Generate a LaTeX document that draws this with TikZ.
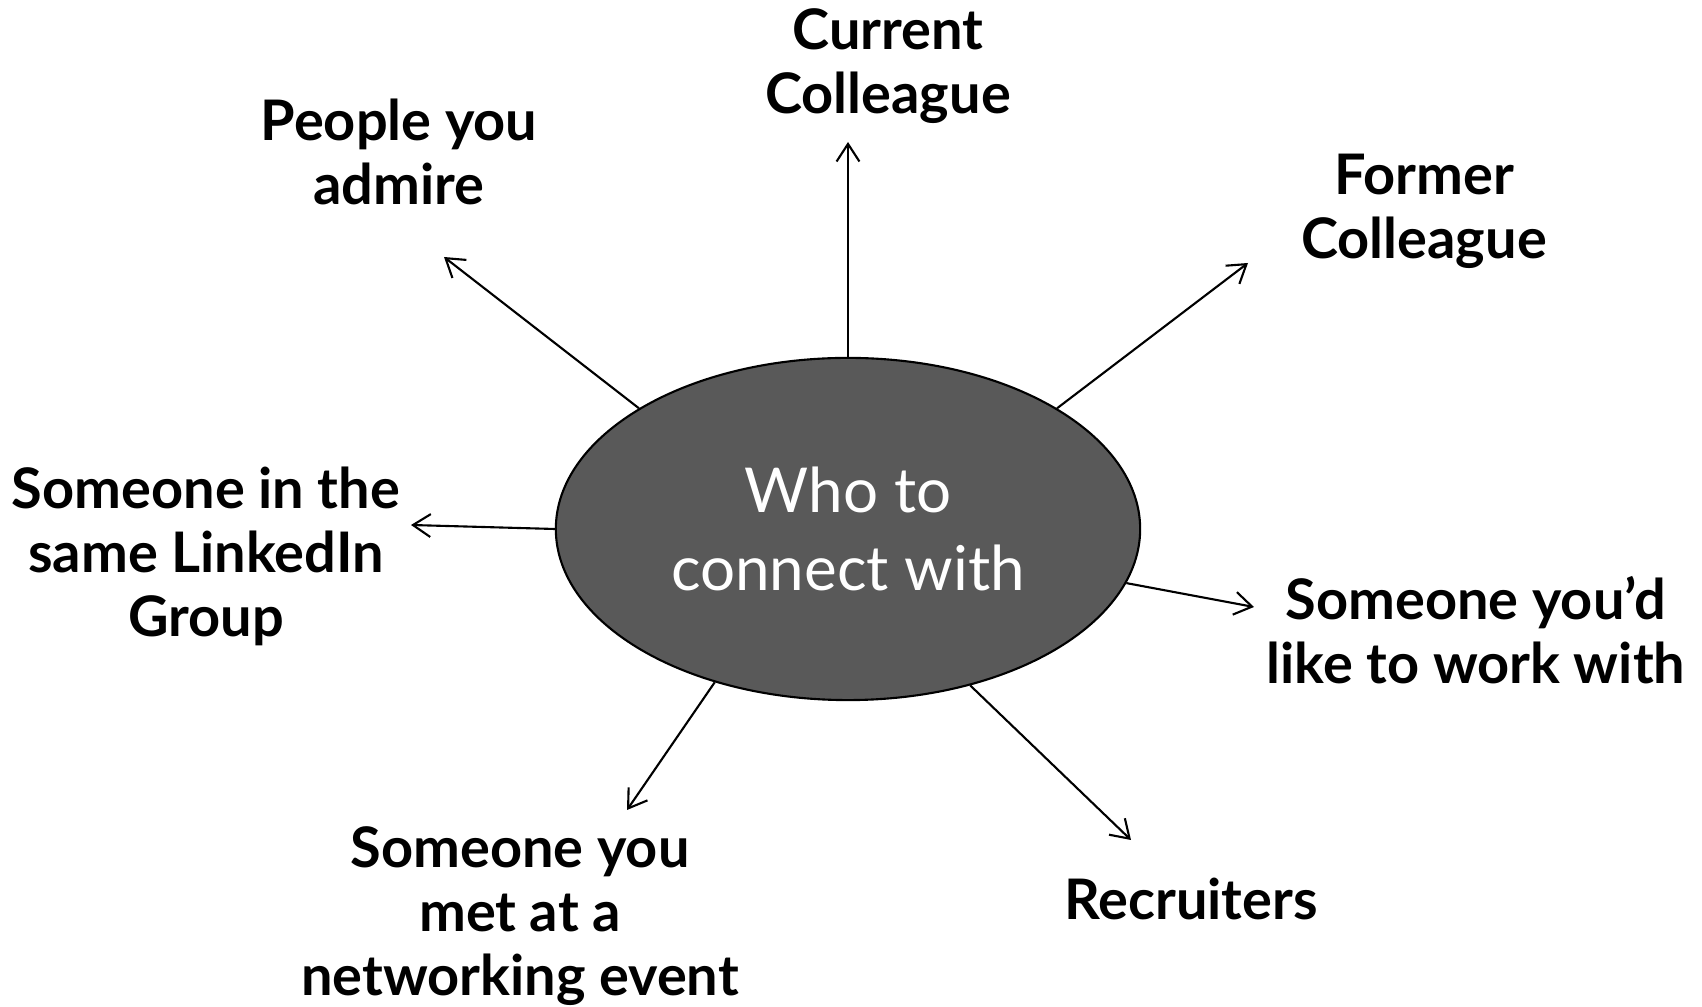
\documentclass[tikz,border=0pt]{standalone}
\usepackage{fontspec}
\setmainfont{Lato}
\usetikzlibrary{shapes.geometric,arrows.meta}
\definecolor{hubgray}{RGB}{89,89,89}
\tikzset{x=0.01cm, y=-0.01cm,
    topic/.style={align=center, font=\fontsize{15.9}{18.2}\selectfont\bfseries},
    hub/.style={ellipse, draw=black, line width=0.6pt, fill=hubgray,
           minimum width=5.84cm, minimum height=3.42cm, text=white,
           align=center, font=\fontsize{17.6}{22.2}\selectfont},
    link/.style={->, line width=0.6pt,
           >={Straight Barb[length=5pt,width=6.5pt]}}
    }

\begin{document}
\begin{tikzpicture}
\useasboundingbox (0,0) rectangle (1702,1007);
\node (hub) [hub] at (848,529) {Who to\\connect with};
\node (cur) [topic] at (888,66) {Current\\Colleague};
\node (adm) [topic] at (399,152) {People you\\admire};
\node (fmr) [topic] at (1424,211) {Former\\Colleague};
\node (grp) [topic] at (206,556) {Someone in the\\same LinkedIn\\Group};
\node (wrk) [topic] at (1476,630) {Someone you’d\\like to work with};
\node (rec) [topic] at (1191,899) {Recruiters};
\node (evt) [topic] at (520,916) {Someone you\\met at a\\networking event};
\coordinate (t-cur) at (848,142);
\coordinate (t-adm) at (444,257);
\coordinate (t-fmr) at (1248,263);
\coordinate (t-grp) at (411,525);
\coordinate (t-wrk) at (1254,607);
\coordinate (t-rec) at (1131,840);
\coordinate (t-evt) at (627,810);
\draw[link] (hub.90) -- (t-cur);
\draw[link] (hub.150) -- (t-adm);
\draw[link] (hub.30.5) -- (t-fmr);
\draw[link] (hub.180) -- (t-grp);
\draw[link] (hub.349) -- (t-wrk);
\draw[link] (hub.308) -- (t-rec);
\draw[link] (hub.229) -- (t-evt);
\end{tikzpicture}
\end{document}
